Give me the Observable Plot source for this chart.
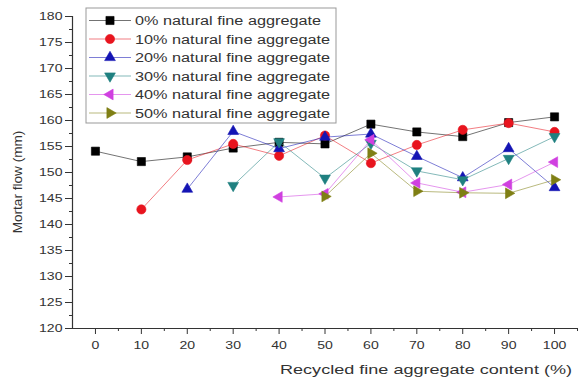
<!DOCTYPE html>
<html>
<head>
<meta charset="utf-8">
<script src="https://cdn.jsdelivr.net/npm/d3@7"></script>
<script src="https://cdn.jsdelivr.net/npm/@observablehq/plot@0.6"></script>
<style>
  html, body { margin: 0; padding: 0; background: #fff; }
  #chart { width: 578px; height: 381px; }
  svg { font-family: "Liberation Sans", Arial, sans-serif; }
</style>
</head>
<body>
<div id="chart"></div>
<script>
// ---- data ----
const recycledContent = [0, 10, 20, 30, 40, 50, 60, 70, 80, 90, 100];
const seriesNames = [
  "0% natural fine aggregate",
  "10% natural fine aggregate",
  "20% natural fine aggregate",
  "30% natural fine aggregate",
  "40% natural fine aggregate",
  "50% natural fine aggregate"
];
const flow0  = [154.1, 152.1, 153.0, 154.7, 155.8, 155.5, 159.3, 157.8, 156.9, 159.6, 160.7];
const flow10 = [null, 142.9, 152.4, 155.5, 153.2, 157.1, 151.8, 155.3, 158.2, 159.5, 157.8];
const flow20 = [null, null, 146.8, 157.9, 154.6, 156.8, 157.4, 153.1, 149.0, 154.6, 147.1];
const flow30 = [null, null, null, 147.5, 155.9, 148.9, 155.6, 150.3, 148.6, 152.7, 156.9];
const flow40 = [null, null, null, null, 145.3, 145.9, 156.3, 148.0, 146.2, 147.7, 152.0];
const flow50 = [null, null, null, null, null, 145.4, 153.7, 146.4, 146.1, 146.0, 148.6];
const allFlows = [flow0, flow10, flow20, flow30, flow40, flow50];

const xTicks = [0, 10, 20, 30, 40, 50, 60, 70, 80, 90, 100];
const xMinorTicks = [5, 15, 25, 35, 45, 55, 65, 75, 85, 95, 105];
const yTicks = [120, 125, 130, 135, 140, 145, 150, 155, 160, 165, 170, 175, 180];
const yMinorTicks = [122.5, 127.5, 132.5, 137.5, 142.5, 147.5, 152.5, 157.5, 162.5, 167.5, 172.5, 177.5];

const seriesColors = ["#000000", "#e8141e", "#1414b4", "#1f8080", "#d040e0", "#7f7f14"];
const seriesSymbols = ["square", "circle", "triangle", "triangle", "triangle", "triangle"];
const seriesRotate = [0, 0, 0, 180, -90, 90];
const seriesR = [4.6, 4.6, 4.0, 4.0, 4.0, 4.0];

// long table
const rows = [];
allFlows.forEach((arr, si) => {
  arr.forEach((v, i) => {
    if (v != null) rows.push({series: seriesNames[si], x: recycledContent[i], y: v});
  });
});

const marks = [
  Plot.axisX({ticks: xTicks, tickSize: 6, tickPadding: 7, label: null, fontSize: 10.2, stroke: "#333", fill: "#333"}),
  Plot.axisX({ticks: xMinorTicks, tickSize: 3, text: null, label: null, stroke: "#333"}),
  Plot.axisY({ticks: yTicks, tickSize: 7, tickPadding: 3, label: null, fontSize: 10.2, stroke: "#333", fill: "#333"}),
  Plot.axisY({ticks: yMinorTicks, tickSize: 3, text: null, label: null, stroke: "#333"}),
  Plot.ruleY([120], {stroke: "#333", strokeWidth: 1.2}),
  Plot.ruleX([-5], {stroke: "#333", strokeWidth: 1.2})
];
seriesNames.forEach((name, si) => {
  const data = rows.filter(d => d.series === name);
  marks.push(Plot.line(data, {x: "x", y: "y", stroke: "series", strokeWidth: 1, strokeOpacity: 0.55}));
  marks.push(Plot.dot(data, {x: "x", y: "y", fill: "series", stroke: "series", strokeWidth: 0.6,
    symbol: seriesSymbols[si], rotate: seriesRotate[si], r: seriesR[si]}));
});

const chart = Plot.plot({
  width: 578,
  height: 381,
  marginLeft: 72,
  marginRight: 1,
  marginTop: 16,
  marginBottom: 53,
  x: {domain: [-5, 105], label: null},
  y: {domain: [120, 180], label: null},
  color: {domain: seriesNames, range: seriesColors},
  style: {background: "#fff", fontFamily: "'Liberation Sans', Arial, sans-serif", overflow: "visible"},
  marks
});
document.getElementById("chart").appendChild(chart);

const svg = d3.select(chart);

// axis titles
const xTitle = svg.append("text")
  .attr("x", 280).attr("y", 374)
  .attr("text-anchor", "start")
  .attr("font-size", 12.6)
  .attr("fill", "#333")
  .text("Recycled fine aggregate content (%)");
svg.append("text")
  .attr("transform", "translate(17,182) rotate(-90)")
  .attr("dy", "0.35em")
  .attr("text-anchor", "middle")
  .attr("font-size", 13.6)
  .attr("fill", "#333")
  .text("Mortar flow (mm)");

// legend
const leg = svg.append("g").attr("text-anchor", "start");
leg.append("rect").attr("x", 86).attr("y", 8).attr("width", 250).attr("height", 115)
  .attr("fill", "#fff").attr("stroke", "#999").attr("stroke-width", 1);
const legendTexts = [];
seriesNames.forEach((name, si) => {
  const cy = 20.5 + si * 18.5;
  const c = seriesColors[si];
  leg.append("line").attr("x1", 89).attr("x2", 131).attr("y1", cy).attr("y2", cy)
    .attr("stroke", c).attr("stroke-opacity", 0.55);
  const type = seriesSymbols[si] === "square" ? d3.symbolSquare : seriesSymbols[si] === "circle" ? d3.symbolCircle : d3.symbolTriangle;
  leg.append("path")
    .attr("d", d3.symbol(type, Math.PI * seriesR[si] * seriesR[si])())
    .attr("transform", `translate(110,${cy}) rotate(${seriesRotate[si]})`)
    .attr("fill", c).attr("stroke", c).attr("stroke-width", 0.6);
  const t = leg.append("text").attr("x", 135).attr("y", cy + 4.5)
    .attr("text-anchor", "start")
    .attr("font-size", 12.5).attr("fill", "#333").text(name);
  legendTexts.push(t.node());
});

// horizontal stretch of text to match the reference's aspect
function stretch(nodes, k) {
  for (const t of nodes) {
    const w = t.getComputedTextLength();
    if (w > 0) {
      t.setAttribute("textLength", (w * k).toFixed(2));
      t.setAttribute("lengthAdjust", "spacingAndGlyphs");
    }
  }
}
const tickTexts = Array.from(chart.querySelectorAll('g[aria-label="x-axis tick label"] text, g[aria-label="y-axis tick label"] text'));
stretch(tickTexts, 1.38);
xTitle.attr("textLength", 292).attr("lengthAdjust", "spacingAndGlyphs");
stretch(legendTexts, 1.3);
</script>
</body>
</html>
